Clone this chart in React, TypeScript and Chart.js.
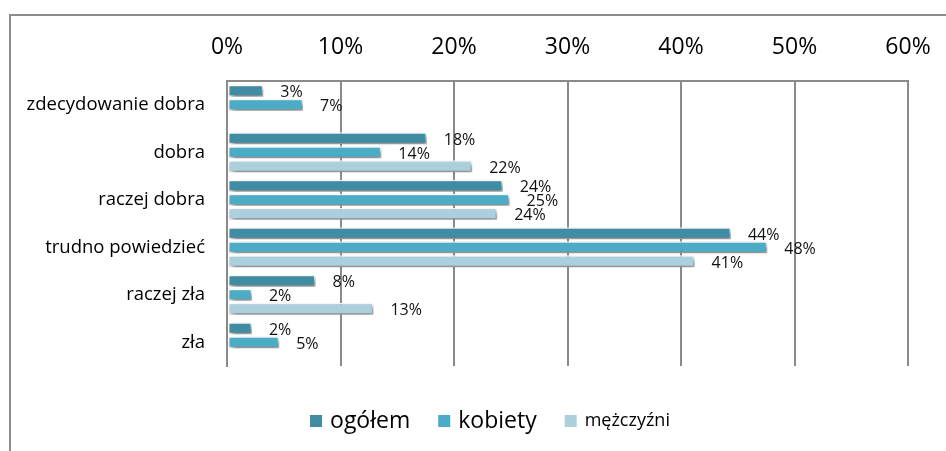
import React, { useEffect, useRef } from "react";
import { Chart, registerables } from "chart.js";

Chart.register(...registerables);

const categories = [
  "zdecydowanie dobra",
  "dobra",
  "raczej dobra",
  "trudno powiedzieć",
  "raczej zła",
  "zła",
];
const seriesNames = ["ogółem", "kobiety", "mężczyźni"];
const ogolem = [3.2, 17.6, 24.3, 44.4, 7.8, 2.2];
const kobiety = [6.7, 13.6, 24.9, 47.6, 2.2, 4.6];
const mezczyzni: (number | null)[] = [null, 21.6, 23.8, 41.2, 12.9, null];
const xTicks = [0, 10, 20, 30, 40, 50, 60];
const seriesColors = ["#3F8CA3", "#4BACC6", "#ABCFDC"];
const legendFontSizes = [23, 23, 18];

const FONT = "'Open Sans', 'Noto Sans', sans-serif";

const framePlugin = {
  id: "frame",
  beforeDraw(chart: any) {
    const ctx = chart.ctx;
    ctx.save();
    ctx.strokeStyle = "#8c8c8c";
    ctx.lineWidth = 2;
    ctx.beginPath();
    ctx.moveTo(10, chart.height);
    ctx.lineTo(10, 15);
    ctx.lineTo(chart.width, 15);
    ctx.stroke();
    ctx.restore();
  },
};

const shadowPlugin = {
  id: "barShadow",
  beforeDatasetsDraw(chart: any) {
    const ctx = chart.ctx;
    ctx.save();
    ctx.shadowColor = "rgba(0,0,0,0.5)";
    ctx.shadowBlur = 5;
    ctx.shadowOffsetX = 2.5;
    ctx.shadowOffsetY = 3;
  },
  afterDatasetsDraw(chart: any) {
    chart.ctx.restore();
  },
};

const labelPlugin = {
  id: "valueLabels",
  afterDraw(chart: any) {
    const ctx = chart.ctx;
    ctx.save();
    ctx.font = `16px ${FONT}`;
    ctx.fillStyle = "#111";
    ctx.textAlign = "left";
    ctx.textBaseline = "middle";
    chart.data.datasets.forEach((ds: any, di: number) => {
      const meta = chart.getDatasetMeta(di);
      meta.data.forEach((el: any, i: number) => {
        const v = ds.data[i];
        if (v === null || v === undefined) return;
        ctx.fillText(Math.round(v) + "%", el.x + 17, el.y + 2);
      });
    });
    ctx.restore();
  },
};

const legendPlugin = {
  id: "customLegend",
  afterDraw(chart: any) {
    const ctx = chart.ctx;
    ctx.save();
    const box = 12;
    const boxGap = 8;
    const itemGap = 28;
    const widths = seriesNames.map((n, i) => {
      ctx.font = `${legendFontSizes[i]}px ${FONT}`;
      return ctx.measureText(n).width;
    });
    const total =
      widths.reduce((a, b) => a + b, 0) +
      seriesNames.length * (box + boxGap) +
      (seriesNames.length - 1) * itemGap;
    let x = 490 - total / 2;
    const cy = 421;
    seriesNames.forEach((n, i) => {
      ctx.fillStyle = seriesColors[i];
      ctx.fillRect(x, cy - box / 2, box, box);
      x += box + boxGap;
      ctx.font = `${legendFontSizes[i]}px ${FONT}`;
      ctx.fillStyle = "#000";
      ctx.textAlign = "left";
      ctx.textBaseline = "middle";
      ctx.fillText(n, x, cy);
      x += widths[i] + itemGap;
    });
    ctx.restore();
  },
};

export default function App() {
  const ref = useRef<HTMLCanvasElement | null>(null);
  useEffect(() => {
    if (!ref.current) return;
    const series = [ogolem, kobiety, mezczyzni];
    const chart = new Chart(ref.current, {
      type: "bar",
      data: {
        labels: categories,
        datasets: series.map((d, i) => ({
          label: seriesNames[i],
          data: d as any,
          backgroundColor: seriesColors[i],
          borderColor: "#ffffff",
          borderWidth: 1.5,
          borderSkipped: false,
          categoryPercentage: 0.884,
          barPercentage: 0.84,
        })),
      },
      options: {
        indexAxis: "y",
        responsive: false,
        animation: false,
        layout: { padding: { left: 0, top: 0, right: 38, bottom: 85 } },
        plugins: {
          legend: { display: false },
          tooltip: { enabled: false },
        },
        scales: {
          x: {
            position: "top",
            min: 0,
            max: 60,
            afterBuildTicks(scale: any) {
              scale.ticks = xTicks.map((v) => ({ value: v }));
            },
            afterFit(scale: any) {
              scale.height = 81;
              scale.paddingLeft = 0;
              scale.paddingRight = 0;
            },
            ticks: {
              padding: 20,
              color: "#000",
              font: { family: FONT, size: 23 },
              callback: (v: any) => v + "%",
            },
            grid: {
              color: "#8a8a8a",
              lineWidth: 2,
              drawTicks: false,
            },
            border: { display: true, color: "#8a8a8a", width: 2 },
          },
          y: {
            afterFit(scale: any) {
              scale.width = 227;
              scale.paddingTop = 0;
              scale.paddingBottom = 0;
            },
            ticks: {
              padding: 22,
              color: "#000",
              font: { family: FONT, size: 18.5 },
            },
            grid: { display: false, drawTicks: false },
            border: { display: true, color: "#8a8a8a", width: 2 },
          },
        },
      },
      plugins: [framePlugin, shadowPlugin, labelPlugin, legendPlugin],
    });
    return () => chart.destroy();
  }, []);
  return (
    <div style={{ position: "fixed", left: 0, top: 0, width: 946, height: 451, background: "#fff" }}>
      <canvas ref={ref} width={946} height={451} />
    </div>
  );
}
